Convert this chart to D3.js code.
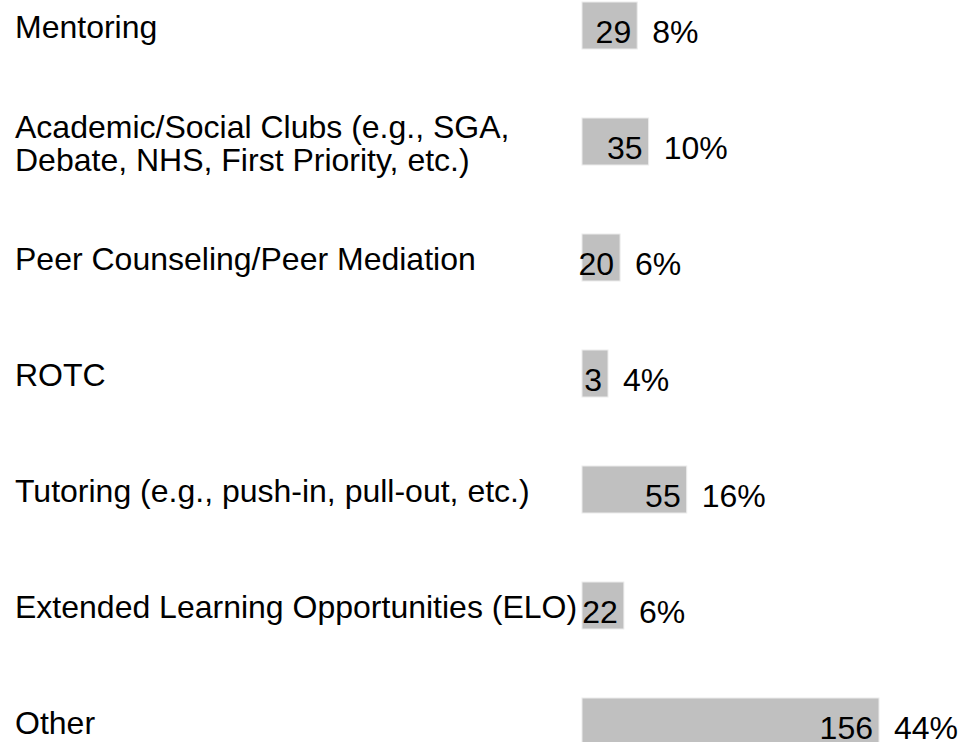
<!DOCTYPE html>
<html lang="en">
<head>
    <meta charset="UTF-8">
    <title>Programs</title>
    <script src="https://cdn.jsdelivr.net/npm/d3@7/dist/d3.min.js"></script>
    <style>
        body { margin: 0; background: #fff; }
        text { font-family: Arial, "Liberation Sans", sans-serif; font-size: 32px; fill: #000; }
    </style>
</head>
<body>
    <script>
        // data
        var categories = [
            'Mentoring',
            'Academic/Social Clubs (e.g., SGA,\nDebate, NHS, First Priority, etc.)',
            'Peer Counseling/Peer Mediation',
            'ROTC',
            'Tutoring (e.g., push-in, pull-out, etc.)',
            'Extended Learning Opportunities (ELO)',
            'Other'
        ];
        var counts = [29, 35, 20, 3, 55, 22, 156];
        var percents = ['8%', '10%', '6%', '4%', '16%', '6%', '44%'];

        var w = 961;
        var h = 742;
        var barLeft = 582;
        var barHeight = 47;
        var minBar = 26;

        var rows = categories.map(function(c, i) {
            return { label: c, count: counts[i], pct: percents[i] };
        });

        var xScale = d3.scaleLinear()
                        .domain([0, d3.max(counts)])
                        .range([0, 297]);

        var yScale = d3.scalePoint()
                        .domain(categories)
                        .range([25.5, 721.5]);

        var svg = d3.select('body')
                    .append('svg')
                    .attr('width', w)
                    .attr('height', h);

        var row = svg.selectAll('g.row')
                    .data(rows)
                    .enter()
                    .append('g')
                    .attr('class', 'row')
                    .attr('transform', function(d) {
                        return 'translate(0,' + yScale(d.label) + ')';
                    });

        function barWidth(d) {
            return Math.max(xScale(d.count), minBar);
        }

        // category labels, may have two lines
        row.append('text')
            .attr('x', 15)
            .each(function(d) {
                var lines = d.label.split('\n');
                var first = 12.5 - (lines.length - 1) * 16.5;
                var t = d3.select(this);
                lines.forEach(function(line, j) {
                    t.append('tspan')
                        .attr('x', 15)
                        .attr('y', first + j * 33)
                        .text(line);
                });
            });

        // bars
        row.append('rect')
            .attr('x', barLeft)
            .attr('y', -barHeight / 2)
            .attr('width', barWidth)
            .attr('height', barHeight)
            .attr('fill', '#c0c0c0')
            .attr('stroke', '#ececec')
            .attr('stroke-width', 1);

        // counts inside the bar end
        row.append('text')
            .attr('x', function(d) { return barLeft + barWidth(d) - 6; })
            .attr('y', 17)
            .attr('text-anchor', 'end')
            .text(function(d) { return d.count; });

        // percentages after the bar
        row.append('text')
            .attr('x', function(d) { return barLeft + barWidth(d) + 15; })
            .attr('y', 17)
            .text(function(d) { return d.pct; });
    </script>
</body>
</html>
